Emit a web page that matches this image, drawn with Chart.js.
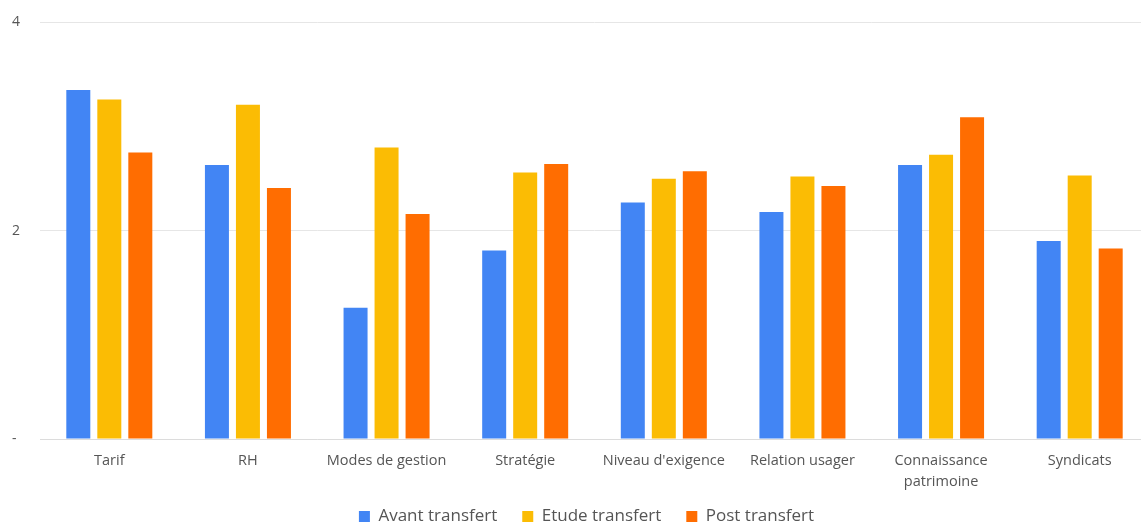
<!DOCTYPE html>
<html>
<head>
<meta charset="utf-8">
<script src="https://cdn.jsdelivr.net/npm/chart.js@4"></script>
<style>
  body { margin: 0; overflow: hidden; background: #fff; }
  #wrap { width: 1149px; height: 544px; }
</style>
</head>
<body>
<div id="wrap"><canvas id="grafiek"></canvas></div>
<script>
const categories = ["Tarif", "RH", "Modes de gestion", "Stratégie", "Niveau d'exigence", "Relation usager", ["Connaissance", "patrimoine"], "Syndicats"];
const avantTransfert = [3.35, 2.63, 1.26, 1.81, 2.27, 2.18, 2.63, 1.90];
const etudeTransfert = [3.26, 3.21, 2.80, 2.56, 2.50, 2.52, 2.73, 2.53];
const postTransfert = [2.75, 2.41, 2.16, 2.64, 2.57, 2.43, 3.09, 1.83];
const yTicks = [0, 2, 4];

const fontFam = "'Open Sans', sans-serif";

// legende iets omhoog schuiven, dichter bij de as-labels
const legendShift = {
  id: 'legendShift',
  afterLayout(chart) {
    const lg = chart.legend;
    if (!lg) return;
    lg.top -= 9;
    lg.bottom -= 9;
    lg.left += 6;
    lg.right += 6;
  }
};

const ctx = document.getElementById('grafiek').getContext('2d');
const myChart = new Chart(ctx, {
  type: 'bar',
  data: {
    labels: categories,
    datasets: [
      { label: 'Avant transfert', data: avantTransfert, backgroundColor: '#4285F4' },
      { label: 'Etude transfert', data: etudeTransfert, backgroundColor: '#FBBC04' },
      { label: 'Post transfert', data: postTransfert, backgroundColor: '#FF6D01' }
    ]
  },
  plugins: [legendShift],
  options: {
    responsive: true,
    maintainAspectRatio: false,
    animation: false,
    datasets: { bar: { categoryPercentage: 0.671, barPercentage: 0.774 } },
    layout: { padding: { top: 0, left: 12, right: 0, bottom: 0 } },
    scales: {
      x: {
        afterFit: function (axis) { axis.height = 53; },
        grid: { display: false, drawTicks: false },
        border: { display: true, color: '#dcdcdc' },
        ticks: { color: '#555', font: { family: fontFam, size: 14.5, lineHeight: 1.45 }, padding: 11, maxRotation: 0, autoSkip: false }
      },
      y: {
        min: 0,
        max: 4,
        afterBuildTicks: function (axis) {
          axis.ticks = yTicks.map(v => ({ value: v }));
        },
        afterFit: function (axis) { axis.width = 28; },
        grid: { color: '#e6e6e6', drawTicks: false },
        border: { display: false },
        ticks: {
          color: '#555',
          font: { family: fontFam, size: 14 },
          padding: 14,
          crossAlign: 'far',
          callback: function (v) { return v === 0 ? '-' : v; }
        }
      }
    },
    plugins: {
      legend: {
        position: 'bottom',
        labels: { boxWidth: 11, boxHeight: 11, color: '#555', font: { family: fontFam, size: 17 }, padding: 25 }
      },
      tooltip: { enabled: false }
    }
  }
});
</script>
</body>
</html>
